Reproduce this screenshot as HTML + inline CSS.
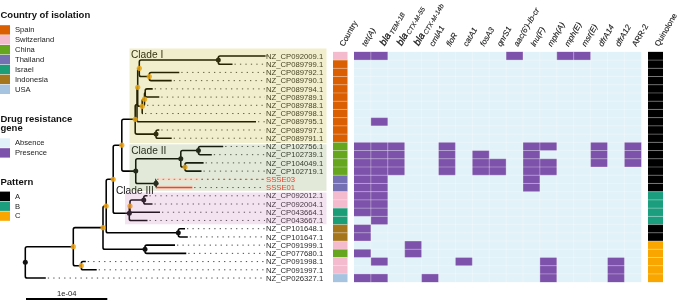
<!DOCTYPE html>
<html><head><meta charset="utf-8"><style>
html,body{margin:0;padding:0;background:#fff;width:677px;height:300px;overflow:hidden}
svg{display:block;font-family:"Liberation Sans",sans-serif;will-change:transform}
</style></head><body>
<svg width="677" height="300" viewBox="0 0 677 300">
<defs><clipPath id="tp"><rect x="0" y="0" width="326.5" height="300"/></clipPath></defs>
<g clip-path="url(#tp)">
<line x1="267.6" y1="55.96" x2="265" y2="55.96" stroke="#4a4a4a" stroke-width="1" stroke-dasharray="1.3 4.15"/>
<line x1="234.5" y1="64.19" x2="265" y2="64.19" stroke="#4a4a4a" stroke-width="1" stroke-dasharray="1.3 4.15"/>
<line x1="181.3" y1="72.41" x2="265" y2="72.41" stroke="#4a4a4a" stroke-width="1" stroke-dasharray="1.3 4.15"/>
<line x1="173.7" y1="80.64" x2="265" y2="80.64" stroke="#4a4a4a" stroke-width="1" stroke-dasharray="1.3 4.15"/>
<line x1="154.7" y1="88.86" x2="265" y2="88.86" stroke="#4a4a4a" stroke-width="1" stroke-dasharray="1.3 4.15"/>
<line x1="161.3" y1="97.09" x2="265" y2="97.09" stroke="#4a4a4a" stroke-width="1" stroke-dasharray="1.3 4.15"/>
<line x1="147" y1="105.31" x2="265" y2="105.31" stroke="#4a4a4a" stroke-width="1" stroke-dasharray="1.3 4.15"/>
<line x1="145" y1="113.54" x2="265" y2="113.54" stroke="#4a4a4a" stroke-width="1" stroke-dasharray="1.3 4.15"/>
<line x1="258" y1="121.76" x2="265" y2="121.76" stroke="#4a4a4a" stroke-width="1" stroke-dasharray="1.3 4.15"/>
<line x1="161.3" y1="129.99" x2="265" y2="129.99" stroke="#4a4a4a" stroke-width="1" stroke-dasharray="1.3 4.15"/>
<line x1="173.7" y1="138.21" x2="265" y2="138.21" stroke="#4a4a4a" stroke-width="1" stroke-dasharray="1.3 4.15"/>
<line x1="225.2" y1="146.44" x2="265" y2="146.44" stroke="#4a4a4a" stroke-width="1" stroke-dasharray="1.3 4.15"/>
<line x1="213.8" y1="154.66" x2="265" y2="154.66" stroke="#4a4a4a" stroke-width="1" stroke-dasharray="1.3 4.15"/>
<line x1="205.6" y1="162.89" x2="265" y2="162.89" stroke="#4a4a4a" stroke-width="1" stroke-dasharray="1.3 4.15"/>
<line x1="203.5" y1="171.11" x2="265" y2="171.11" stroke="#4a4a4a" stroke-width="1" stroke-dasharray="1.3 4.15"/>
<line x1="158" y1="179.34" x2="265" y2="179.34" stroke="#4a4a4a" stroke-width="1" stroke-dasharray="1.3 4.15"/>
<line x1="194.2" y1="187.56" x2="265" y2="187.56" stroke="#4a4a4a" stroke-width="1" stroke-dasharray="1.3 4.15"/>
<line x1="149.5" y1="195.79" x2="265" y2="195.79" stroke="#4a4a4a" stroke-width="1" stroke-dasharray="1.3 4.15"/>
<line x1="154.5" y1="204.01" x2="265" y2="204.01" stroke="#4a4a4a" stroke-width="1" stroke-dasharray="1.3 4.15"/>
<line x1="162" y1="212.24" x2="265" y2="212.24" stroke="#4a4a4a" stroke-width="1" stroke-dasharray="1.3 4.15"/>
<line x1="149.5" y1="220.46" x2="265" y2="220.46" stroke="#4a4a4a" stroke-width="1" stroke-dasharray="1.3 4.15"/>
<line x1="187" y1="228.69" x2="265" y2="228.69" stroke="#4a4a4a" stroke-width="1" stroke-dasharray="1.3 4.15"/>
<line x1="189.8" y1="236.91" x2="265" y2="236.91" stroke="#4a4a4a" stroke-width="1" stroke-dasharray="1.3 4.15"/>
<line x1="177" y1="245.14" x2="265" y2="245.14" stroke="#4a4a4a" stroke-width="1" stroke-dasharray="1.3 4.15"/>
<line x1="188.25" y1="253.36" x2="265" y2="253.36" stroke="#4a4a4a" stroke-width="1" stroke-dasharray="1.3 4.15"/>
<line x1="87.8" y1="261.59" x2="265" y2="261.59" stroke="#4a4a4a" stroke-width="1" stroke-dasharray="1.3 4.15"/>
<line x1="98.7" y1="269.81" x2="265" y2="269.81" stroke="#4a4a4a" stroke-width="1" stroke-dasharray="1.3 4.15"/>
<line x1="47.8" y1="278.04" x2="265" y2="278.04" stroke="#4a4a4a" stroke-width="1" stroke-dasharray="1.3 4.15"/>
<g fill="none" stroke="#000000" stroke-width="1.55" stroke-linecap="butt">
<path d="M218.3 60.08V57.76Q218.3 55.96 220.1 55.96H265.6"/>
<path d="M218.3 60.08V62.39Q218.3 64.19 220.1 64.19H232.5"/>
<path d="M149.3 76.53V74.21Q149.3 72.41 151.1 72.41H179.3"/>
<path d="M149.3 76.53V78.84Q149.3 80.64 151.1 80.64H171.7"/>
<path d="M139.3 68.3V61.88Q139.3 60.08 141.1 60.08H218.3"/>
<path d="M139.3 68.3V74.73Q139.3 76.53 141.1 76.53H149.3"/>
<path d="M145.2 92.97V90.66Q145.2 88.86 147 88.86H152.7"/>
<path d="M145.2 92.97V95.29Q145.2 97.09 147 97.09H159.3"/>
<path d="M144.5 99.14V93.67Q144.5 92.97 145.2 92.97H145.2"/>
<path d="M144.5 99.14V104.81Q144.5 105.31 145 105.31H145"/>
<path d="M142.2 106.34V100.94Q142.2 99.14 144 99.14H144.5"/>
<path d="M142.2 106.34V112.74Q142.2 113.54 143 113.54H143"/>
<path d="M137.7 87.32V69.9Q137.7 68.3 139.3 68.3H139.3"/>
<path d="M137.7 87.32V104.54Q137.7 106.34 139.5 106.34H142.2"/>
<path d="M137 104.54V88.02Q137 87.32 137.7 87.32H137.7"/>
<path d="M137 104.54V119.96Q137 121.76 138.8 121.76H256"/>
<path d="M156 134.1V131.79Q156 129.99 157.8 129.99H159.3"/>
<path d="M156 134.1V136.41Q156 138.21 157.8 138.21H171.7"/>
<path d="M135.2 119.32V106.34Q135.2 104.54 137 104.54H137"/>
<path d="M135.2 119.32V132.3Q135.2 134.1 137 134.1H156"/>
<path d="M198.4 150.55V148.24Q198.4 146.44 200.2 146.44H223.2"/>
<path d="M198.4 150.55V152.86Q198.4 154.66 200.2 154.66H211.8"/>
<path d="M185 167V164.69Q185 162.89 186.8 162.89H203.6"/>
<path d="M185 167V169.31Q185 171.11 186.8 171.11H201.5"/>
<path d="M180.8 158.78V152.35Q180.8 150.55 182.6 150.55H198.4"/>
<path d="M180.8 158.78V165.2Q180.8 167 182.6 167H185"/>
<path d="M156 183.45V179.35Q156 179.34 156.01 179.34H156.01"/>
<path d="M156 183.45V185.76Q156 187.56 157.8 187.56H192.2"/>
<path d="M135.75 171.11V160.58Q135.75 158.78 137.55 158.78H180.8"/>
<path d="M135.75 171.11V181.65Q135.75 183.45 137.55 183.45H156"/>
<path d="M121.8 145.22V121.12Q121.8 119.32 123.6 119.32H135.2"/>
<path d="M121.8 145.22V169.31Q121.8 171.11 123.6 171.11H135.75"/>
<path d="M143.75 199.9V197.59Q143.75 195.79 145.55 195.79H147.5"/>
<path d="M143.75 199.9V202.21Q143.75 204.01 145.55 204.01H152.5"/>
<path d="M130 206.07V201.7Q130 199.9 131.8 199.9H143.75"/>
<path d="M130 206.07V210.44Q130 212.24 131.8 212.24H160"/>
<path d="M129.3 213.27V206.77Q129.3 206.07 130 206.07H130"/>
<path d="M129.3 213.27V218.66Q129.3 220.46 131.1 220.46H147.5"/>
<path d="M113.2 179.24V147.02Q113.2 145.22 115 145.22H121.8"/>
<path d="M113.2 179.24V211.47Q113.2 213.27 115 213.27H129.3"/>
<path d="M178.3 232.8V230.49Q178.3 228.69 180.1 228.69H185"/>
<path d="M178.3 232.8V235.11Q178.3 236.91 180.1 236.91H187.8"/>
<path d="M106.2 206.02V181.04Q106.2 179.24 108 179.24H113.2"/>
<path d="M106.2 206.02V231Q106.2 232.8 108 232.8H178.3"/>
<path d="M145 249.25V246.94Q145 245.14 146.8 245.14H175"/>
<path d="M145 249.25V251.56Q145 253.36 146.8 253.36H186.25"/>
<path d="M103 227.64V207.82Q103 206.02 104.8 206.02H106.2"/>
<path d="M103 227.64V247.45Q103 249.25 104.8 249.25H145"/>
<path d="M81.3 265.7V263.39Q81.3 261.59 83.1 261.59H85.8"/>
<path d="M81.3 265.7V268.01Q81.3 269.81 83.1 269.81H96.7"/>
<path d="M73.3 246.67V229.44Q73.3 227.64 75.1 227.64H103"/>
<path d="M73.3 246.67V263.9Q73.3 265.7 75.1 265.7H81.3"/>
<path d="M25.3 262.35V248.47Q25.3 246.67 27.1 246.67H73.3"/>
<path d="M25.3 262.35V276.24Q25.3 278.04 27.1 278.04H45.8"/>
</g>
<circle cx="218.3" cy="60.08" r="2.5" fill="#111111"/>
<circle cx="149.3" cy="76.53" r="2.6" fill="#f2a20f" fill-opacity="0.85"/>
<circle cx="139.3" cy="68.3" r="2.6" fill="#f2a20f" fill-opacity="0.85"/>
<circle cx="144.5" cy="99.14" r="2.6" fill="#f2a20f" fill-opacity="0.85"/>
<circle cx="142.2" cy="106.34" r="2.6" fill="#f2a20f" fill-opacity="0.85"/>
<circle cx="137.7" cy="87.32" r="2.6" fill="#f2a20f" fill-opacity="0.85"/>
<circle cx="156" cy="134.1" r="2.5" fill="#111111"/>
<circle cx="135.2" cy="119.32" r="2.6" fill="#f2a20f" fill-opacity="0.85"/>
<circle cx="198.4" cy="150.55" r="2.5" fill="#111111"/>
<circle cx="185" cy="167" r="2.6" fill="#f2a20f" fill-opacity="0.85"/>
<circle cx="180.8" cy="158.78" r="2.5" fill="#111111"/>
<circle cx="156" cy="183.45" r="2.5" fill="#111111"/>
<circle cx="135.75" cy="171.11" r="2.5" fill="#111111"/>
<circle cx="121.8" cy="145.22" r="2.6" fill="#f2a20f" fill-opacity="0.85"/>
<circle cx="143.75" cy="199.9" r="2.5" fill="#111111"/>
<circle cx="130" cy="206.07" r="2.6" fill="#f2a20f" fill-opacity="0.85"/>
<circle cx="129.3" cy="213.27" r="2.5" fill="#111111"/>
<circle cx="113.2" cy="179.24" r="2.6" fill="#f2a20f" fill-opacity="0.85"/>
<circle cx="178.3" cy="232.8" r="2.5" fill="#111111"/>
<circle cx="106.2" cy="206.02" r="2.6" fill="#f2a20f" fill-opacity="0.85"/>
<circle cx="145" cy="249.25" r="2.5" fill="#111111"/>
<circle cx="103" cy="227.64" r="2.6" fill="#f2a20f" fill-opacity="0.85"/>
<circle cx="81.3" cy="265.7" r="2.6" fill="#f2a20f" fill-opacity="0.85"/>
<circle cx="73.3" cy="246.67" r="2.6" fill="#f2a20f" fill-opacity="0.85"/>
<circle cx="25.3" cy="262.35" r="2.5" fill="#111111"/>
<text x="266" y="58.66" font-size="7.7" fill="#2a2a2a">NZ_CP092009.1</text>
<text x="266" y="66.89" font-size="7.7" fill="#2a2a2a">NZ_CP089799.1</text>
<text x="266" y="75.11" font-size="7.7" fill="#2a2a2a">NZ_CP089792.1</text>
<text x="266" y="83.34" font-size="7.7" fill="#2a2a2a">NZ_CP089790.1</text>
<text x="266" y="91.56" font-size="7.7" fill="#2a2a2a">NZ_CP089794.1</text>
<text x="266" y="99.79" font-size="7.7" fill="#2a2a2a">NZ_CP089789.1</text>
<text x="266" y="108.01" font-size="7.7" fill="#2a2a2a">NZ_CP089788.1</text>
<text x="266" y="116.24" font-size="7.7" fill="#2a2a2a">NZ_CP089798.1</text>
<text x="266" y="124.46" font-size="7.7" fill="#2a2a2a">NZ_CP089795.1</text>
<text x="266" y="132.69" font-size="7.7" fill="#2a2a2a">NZ_CP089797.1</text>
<text x="266" y="140.91" font-size="7.7" fill="#2a2a2a">NZ_CP089791.1</text>
<text x="266" y="149.14" font-size="7.7" fill="#2a2a2a">NZ_CP102756.1</text>
<text x="266" y="157.36" font-size="7.7" fill="#2a2a2a">NZ_CP102739.1</text>
<text x="266" y="165.59" font-size="7.7" fill="#2a2a2a">NZ_CP104049.1</text>
<text x="266" y="173.81" font-size="7.7" fill="#2a2a2a">NZ_CP102719.1</text>
<text x="266" y="198.49" font-size="7.7" fill="#2a2a2a">NZ_CP092012.1</text>
<text x="266" y="206.71" font-size="7.7" fill="#2a2a2a">NZ_CP092004.1</text>
<text x="266" y="214.94" font-size="7.7" fill="#2a2a2a">NZ_CP043664.1</text>
<text x="266" y="223.16" font-size="7.7" fill="#2a2a2a">NZ_CP043667.1</text>
<text x="266" y="231.39" font-size="7.7" fill="#2a2a2a">NZ_CP101648.1</text>
<text x="266" y="239.61" font-size="7.7" fill="#2a2a2a">NZ_CP101647.1</text>
<text x="266" y="247.84" font-size="7.7" fill="#2a2a2a">NZ_CP091999.1</text>
<text x="266" y="256.06" font-size="7.7" fill="#2a2a2a">NZ_CP077680.1</text>
<text x="266" y="264.29" font-size="7.7" fill="#2a2a2a">NZ_CP091998.1</text>
<text x="266" y="272.51" font-size="7.7" fill="#2a2a2a">NZ_CP091997.1</text>
<text x="266" y="280.74" font-size="7.7" fill="#2a2a2a">NZ_CP026327.1</text>
<text x="131" y="58.3" font-size="10.2" fill="#111">Clade I</text>
<text x="131.2" y="154" font-size="10.2" fill="#111">Clade II</text>
<text x="116" y="194" font-size="10.2" fill="#111">Clade III</text>
<rect x="129.5" y="48.5" width="200" height="94.5" fill="#b9aa05" fill-opacity="0.2"/>
<rect x="129.5" y="144.3" width="200" height="46.5" fill="#73913c" fill-opacity="0.2"/>
<rect x="125" y="192.5" width="205" height="31.8" fill="#c373b4" fill-opacity="0.2"/>
<path d="M157 179.34H200" stroke="#f9d9c4" stroke-width="2.4" fill="none"/>
<line x1="157" y1="179.34" x2="265" y2="179.34" stroke="#e0553c" stroke-width="0.9" stroke-dasharray="1.6 3.95"/>
<path d="M157 187.56H192.7" stroke="#f9d9c4" stroke-width="4.4" fill="none"/>
<path d="M156 187.56H192.2" stroke="#d4513a" stroke-width="1.5" fill="none"/>
<circle cx="156" cy="183.45" r="2.4" fill="#2a2f22"/>
<text x="266" y="182.04" font-size="7.7" fill="#e2432f">SSSE03</text>
<text x="266" y="190.26" font-size="7.7" fill="#e2432f">SSSE01</text>
</g>
<rect x="333" y="51.85" width="14.5" height="8.22" fill="#f4bacd"/>
<rect x="333" y="60.08" width="14.5" height="8.22" fill="#d95f02"/>
<rect x="333" y="68.3" width="14.5" height="8.22" fill="#d95f02"/>
<rect x="333" y="76.53" width="14.5" height="8.22" fill="#d95f02"/>
<rect x="333" y="84.75" width="14.5" height="8.22" fill="#d95f02"/>
<rect x="333" y="92.97" width="14.5" height="8.22" fill="#d95f02"/>
<rect x="333" y="101.2" width="14.5" height="8.22" fill="#d95f02"/>
<rect x="333" y="109.42" width="14.5" height="8.22" fill="#d95f02"/>
<rect x="333" y="117.65" width="14.5" height="8.22" fill="#d95f02"/>
<rect x="333" y="125.88" width="14.5" height="8.22" fill="#d95f02"/>
<rect x="333" y="134.1" width="14.5" height="8.22" fill="#d95f02"/>
<rect x="333" y="142.32" width="14.5" height="8.22" fill="#66a61e"/>
<rect x="333" y="150.55" width="14.5" height="8.22" fill="#66a61e"/>
<rect x="333" y="158.78" width="14.5" height="8.22" fill="#66a61e"/>
<rect x="333" y="167" width="14.5" height="8.22" fill="#66a61e"/>
<rect x="333" y="175.22" width="14.5" height="8.22" fill="#7570b3"/>
<rect x="333" y="183.45" width="14.5" height="8.22" fill="#7570b3"/>
<rect x="333" y="191.67" width="14.5" height="8.22" fill="#f4bacd"/>
<rect x="333" y="199.9" width="14.5" height="8.22" fill="#f4bacd"/>
<rect x="333" y="208.12" width="14.5" height="8.22" fill="#1b9e77"/>
<rect x="333" y="216.35" width="14.5" height="8.22" fill="#1b9e77"/>
<rect x="333" y="224.57" width="14.5" height="8.22" fill="#a6761d"/>
<rect x="333" y="232.8" width="14.5" height="8.22" fill="#a6761d"/>
<rect x="333" y="241.02" width="14.5" height="8.22" fill="#f4bacd"/>
<rect x="333" y="249.25" width="14.5" height="8.22" fill="#66a61e"/>
<rect x="333" y="257.48" width="14.5" height="8.22" fill="#f4bacd"/>
<rect x="333" y="265.7" width="14.5" height="8.22" fill="#f4bacd"/>
<rect x="333" y="273.93" width="14.5" height="8.22" fill="#a6c3e0"/>
<rect x="354" y="51.85" width="287.3" height="230.3" fill="#e2f2f9"/>
<rect x="354" y="51.85" width="16.9" height="8.22" fill="#7d52aa"/>
<rect x="370.9" y="51.85" width="16.9" height="8.22" fill="#7d52aa"/>
<rect x="506.1" y="51.85" width="16.9" height="8.22" fill="#7d52aa"/>
<rect x="556.8" y="51.85" width="16.9" height="8.22" fill="#7d52aa"/>
<rect x="573.7" y="51.85" width="16.9" height="8.22" fill="#7d52aa"/>
<rect x="370.9" y="117.65" width="16.9" height="8.22" fill="#7d52aa"/>
<rect x="354" y="142.32" width="16.9" height="8.22" fill="#7d52aa"/>
<rect x="370.9" y="142.32" width="16.9" height="8.22" fill="#7d52aa"/>
<rect x="387.8" y="142.32" width="16.9" height="8.22" fill="#7d52aa"/>
<rect x="438.5" y="142.32" width="16.9" height="8.22" fill="#7d52aa"/>
<rect x="523" y="142.32" width="16.9" height="8.22" fill="#7d52aa"/>
<rect x="539.9" y="142.32" width="16.9" height="8.22" fill="#7d52aa"/>
<rect x="590.6" y="142.32" width="16.9" height="8.22" fill="#7d52aa"/>
<rect x="624.4" y="142.32" width="16.9" height="8.22" fill="#7d52aa"/>
<rect x="354" y="150.55" width="16.9" height="8.22" fill="#7d52aa"/>
<rect x="370.9" y="150.55" width="16.9" height="8.22" fill="#7d52aa"/>
<rect x="387.8" y="150.55" width="16.9" height="8.22" fill="#7d52aa"/>
<rect x="438.5" y="150.55" width="16.9" height="8.22" fill="#7d52aa"/>
<rect x="472.3" y="150.55" width="16.9" height="8.22" fill="#7d52aa"/>
<rect x="523" y="150.55" width="16.9" height="8.22" fill="#7d52aa"/>
<rect x="590.6" y="150.55" width="16.9" height="8.22" fill="#7d52aa"/>
<rect x="624.4" y="150.55" width="16.9" height="8.22" fill="#7d52aa"/>
<rect x="354" y="158.78" width="16.9" height="8.22" fill="#7d52aa"/>
<rect x="370.9" y="158.78" width="16.9" height="8.22" fill="#7d52aa"/>
<rect x="387.8" y="158.78" width="16.9" height="8.22" fill="#7d52aa"/>
<rect x="438.5" y="158.78" width="16.9" height="8.22" fill="#7d52aa"/>
<rect x="472.3" y="158.78" width="16.9" height="8.22" fill="#7d52aa"/>
<rect x="489.2" y="158.78" width="16.9" height="8.22" fill="#7d52aa"/>
<rect x="523" y="158.78" width="16.9" height="8.22" fill="#7d52aa"/>
<rect x="539.9" y="158.78" width="16.9" height="8.22" fill="#7d52aa"/>
<rect x="590.6" y="158.78" width="16.9" height="8.22" fill="#7d52aa"/>
<rect x="624.4" y="158.78" width="16.9" height="8.22" fill="#7d52aa"/>
<rect x="354" y="167" width="16.9" height="8.22" fill="#7d52aa"/>
<rect x="370.9" y="167" width="16.9" height="8.22" fill="#7d52aa"/>
<rect x="387.8" y="167" width="16.9" height="8.22" fill="#7d52aa"/>
<rect x="438.5" y="167" width="16.9" height="8.22" fill="#7d52aa"/>
<rect x="472.3" y="167" width="16.9" height="8.22" fill="#7d52aa"/>
<rect x="489.2" y="167" width="16.9" height="8.22" fill="#7d52aa"/>
<rect x="523" y="167" width="16.9" height="8.22" fill="#7d52aa"/>
<rect x="539.9" y="167" width="16.9" height="8.22" fill="#7d52aa"/>
<rect x="354" y="175.22" width="16.9" height="8.22" fill="#7d52aa"/>
<rect x="370.9" y="175.22" width="16.9" height="8.22" fill="#7d52aa"/>
<rect x="523" y="175.22" width="16.9" height="8.22" fill="#7d52aa"/>
<rect x="354" y="183.45" width="16.9" height="8.22" fill="#7d52aa"/>
<rect x="370.9" y="183.45" width="16.9" height="8.22" fill="#7d52aa"/>
<rect x="523" y="183.45" width="16.9" height="8.22" fill="#7d52aa"/>
<rect x="354" y="191.67" width="16.9" height="8.22" fill="#7d52aa"/>
<rect x="370.9" y="191.67" width="16.9" height="8.22" fill="#7d52aa"/>
<rect x="354" y="199.9" width="16.9" height="8.22" fill="#7d52aa"/>
<rect x="370.9" y="199.9" width="16.9" height="8.22" fill="#7d52aa"/>
<rect x="354" y="208.12" width="16.9" height="8.22" fill="#7d52aa"/>
<rect x="370.9" y="208.12" width="16.9" height="8.22" fill="#7d52aa"/>
<rect x="370.9" y="216.35" width="16.9" height="8.22" fill="#7d52aa"/>
<rect x="354" y="224.57" width="16.9" height="8.22" fill="#7d52aa"/>
<rect x="354" y="232.8" width="16.9" height="8.22" fill="#7d52aa"/>
<rect x="404.7" y="241.02" width="16.9" height="8.22" fill="#7d52aa"/>
<rect x="354" y="249.25" width="16.9" height="8.22" fill="#7d52aa"/>
<rect x="404.7" y="249.25" width="16.9" height="8.22" fill="#7d52aa"/>
<rect x="370.9" y="257.48" width="16.9" height="8.22" fill="#7d52aa"/>
<rect x="455.4" y="257.48" width="16.9" height="8.22" fill="#7d52aa"/>
<rect x="539.9" y="257.48" width="16.9" height="8.22" fill="#7d52aa"/>
<rect x="607.5" y="257.48" width="16.9" height="8.22" fill="#7d52aa"/>
<rect x="539.9" y="265.7" width="16.9" height="8.22" fill="#7d52aa"/>
<rect x="607.5" y="265.7" width="16.9" height="8.22" fill="#7d52aa"/>
<rect x="354" y="273.93" width="16.9" height="8.22" fill="#7d52aa"/>
<rect x="370.9" y="273.93" width="16.9" height="8.22" fill="#7d52aa"/>
<rect x="421.6" y="273.93" width="16.9" height="8.22" fill="#7d52aa"/>
<rect x="539.9" y="273.93" width="16.9" height="8.22" fill="#7d52aa"/>
<rect x="607.5" y="273.93" width="16.9" height="8.22" fill="#7d52aa"/>
<rect x="648" y="51.85" width="15" height="8.22" fill="#000000"/>
<rect x="648" y="60.08" width="15" height="8.22" fill="#000000"/>
<rect x="648" y="68.3" width="15" height="8.22" fill="#000000"/>
<rect x="648" y="76.53" width="15" height="8.22" fill="#000000"/>
<rect x="648" y="84.75" width="15" height="8.22" fill="#000000"/>
<rect x="648" y="92.97" width="15" height="8.22" fill="#000000"/>
<rect x="648" y="101.2" width="15" height="8.22" fill="#000000"/>
<rect x="648" y="109.42" width="15" height="8.22" fill="#000000"/>
<rect x="648" y="117.65" width="15" height="8.22" fill="#000000"/>
<rect x="648" y="125.88" width="15" height="8.22" fill="#000000"/>
<rect x="648" y="134.1" width="15" height="8.22" fill="#000000"/>
<rect x="648" y="142.32" width="15" height="8.22" fill="#000000"/>
<rect x="648" y="150.55" width="15" height="8.22" fill="#000000"/>
<rect x="648" y="158.78" width="15" height="8.22" fill="#000000"/>
<rect x="648" y="167" width="15" height="8.22" fill="#000000"/>
<rect x="648" y="175.22" width="15" height="8.22" fill="#000000"/>
<rect x="648" y="183.45" width="15" height="8.22" fill="#000000"/>
<rect x="648" y="191.67" width="15" height="8.22" fill="#1a9e7e"/>
<rect x="648" y="199.9" width="15" height="8.22" fill="#1a9e7e"/>
<rect x="648" y="208.12" width="15" height="8.22" fill="#1a9e7e"/>
<rect x="648" y="216.35" width="15" height="8.22" fill="#1a9e7e"/>
<rect x="648" y="224.57" width="15" height="8.22" fill="#000000"/>
<rect x="648" y="232.8" width="15" height="8.22" fill="#000000"/>
<rect x="648" y="241.02" width="15" height="8.22" fill="#f9a700"/>
<rect x="648" y="249.25" width="15" height="8.22" fill="#f9a700"/>
<rect x="648" y="257.48" width="15" height="8.22" fill="#f9a700"/>
<rect x="648" y="265.7" width="15" height="8.22" fill="#f9a700"/>
<rect x="648" y="273.93" width="15" height="8.22" fill="#f9a700"/>
<path d="M333 60.08H347.5M354 60.08H641.3M648 60.08H663M333 68.3H347.5M354 68.3H641.3M648 68.3H663M333 76.53H347.5M354 76.53H641.3M648 76.53H663M333 84.75H347.5M354 84.75H641.3M648 84.75H663M333 92.97H347.5M354 92.97H641.3M648 92.97H663M333 101.2H347.5M354 101.2H641.3M648 101.2H663M333 109.42H347.5M354 109.42H641.3M648 109.42H663M333 117.65H347.5M354 117.65H641.3M648 117.65H663M333 125.88H347.5M354 125.88H641.3M648 125.88H663M333 134.1H347.5M354 134.1H641.3M648 134.1H663M333 142.32H347.5M354 142.32H641.3M648 142.32H663M333 150.55H347.5M354 150.55H641.3M648 150.55H663M333 158.78H347.5M354 158.78H641.3M648 158.78H663M333 167H347.5M354 167H641.3M648 167H663M333 175.22H347.5M354 175.22H641.3M648 175.22H663M333 183.45H347.5M354 183.45H641.3M648 183.45H663M333 191.67H347.5M354 191.67H641.3M648 191.67H663M333 199.9H347.5M354 199.9H641.3M648 199.9H663M333 208.12H347.5M354 208.12H641.3M648 208.12H663M333 216.35H347.5M354 216.35H641.3M648 216.35H663M333 224.57H347.5M354 224.57H641.3M648 224.57H663M333 232.8H347.5M354 232.8H641.3M648 232.8H663M333 241.02H347.5M354 241.02H641.3M648 241.02H663M333 249.25H347.5M354 249.25H641.3M648 249.25H663M333 257.48H347.5M354 257.48H641.3M648 257.48H663M333 265.7H347.5M354 265.7H641.3M648 265.7H663M333 273.93H347.5M354 273.93H641.3M648 273.93H663M370.9 51.85V282.15M387.8 51.85V282.15M404.7 51.85V282.15M421.6 51.85V282.15M438.5 51.85V282.15M455.4 51.85V282.15M472.3 51.85V282.15M489.2 51.85V282.15M506.1 51.85V282.15M523 51.85V282.15M539.9 51.85V282.15M556.8 51.85V282.15M573.7 51.85V282.15M590.6 51.85V282.15M607.5 51.85V282.15M624.4 51.85V282.15" stroke="#ffffff" stroke-opacity="0.5" stroke-width="0.6" fill="none"/>
<text transform="translate(343.75 47) rotate(-60)" font-size="8" fill="#1a1a1a" stroke="#1a1a1a" stroke-width="0.12">Country</text>
<text transform="translate(365.95 47) rotate(-60)" font-size="8" fill="#1a1a1a" stroke="#1a1a1a" stroke-width="0.12" font-style="italic">tet(A)</text>
<text transform="translate(384.85 46.2) rotate(-60)" font-size="8" fill="#1a1a1a" stroke="#1a1a1a" stroke-width="0.12"><tspan font-style="italic" font-size="9.6" stroke="#1a1a1a" stroke-width="0.32">bla</tspan><tspan font-style="italic" font-size="6.6" dy="1.6" dx="1">TEM-1B</tspan></text>
<text transform="translate(401.75 46.2) rotate(-60)" font-size="8" fill="#1a1a1a" stroke="#1a1a1a" stroke-width="0.12"><tspan font-style="italic" font-size="9.6" stroke="#1a1a1a" stroke-width="0.32">bla</tspan><tspan font-style="italic" font-size="6.6" dy="1.6" dx="1">CTX-M-55</tspan></text>
<text transform="translate(418.65 46.2) rotate(-60)" font-size="8" fill="#1a1a1a" stroke="#1a1a1a" stroke-width="0.12"><tspan font-style="italic" font-size="9.6" stroke="#1a1a1a" stroke-width="0.32">bla</tspan><tspan font-style="italic" font-size="6.6" dy="1.6" dx="1">CTX-M-14b</tspan></text>
<text transform="translate(433.55 47) rotate(-60)" font-size="8" fill="#1a1a1a" stroke="#1a1a1a" stroke-width="0.12" font-style="italic">cmlA1</text>
<text transform="translate(450.45 47) rotate(-60)" font-size="8" fill="#1a1a1a" stroke="#1a1a1a" stroke-width="0.12" font-style="italic">floR</text>
<text transform="translate(467.35 47) rotate(-60)" font-size="8" fill="#1a1a1a" stroke="#1a1a1a" stroke-width="0.12" font-style="italic">catA1</text>
<text transform="translate(484.25 47) rotate(-60)" font-size="8" fill="#1a1a1a" stroke="#1a1a1a" stroke-width="0.12" font-style="italic">fosA3</text>
<text transform="translate(501.15 47) rotate(-60)" font-size="8" fill="#1a1a1a" stroke="#1a1a1a" stroke-width="0.12" font-style="italic">qnrS1</text>
<text transform="translate(518.05 47) rotate(-60)" font-size="8" fill="#1a1a1a" stroke="#1a1a1a" stroke-width="0.12" font-style="italic">aac(6&#39;)-Ib-cr</text>
<text transform="translate(534.95 47) rotate(-60)" font-size="8" fill="#1a1a1a" stroke="#1a1a1a" stroke-width="0.12" font-style="italic">lnu(F)</text>
<text transform="translate(551.85 47) rotate(-60)" font-size="8" fill="#1a1a1a" stroke="#1a1a1a" stroke-width="0.12" font-style="italic">mph(A)</text>
<text transform="translate(568.75 47) rotate(-60)" font-size="8" fill="#1a1a1a" stroke="#1a1a1a" stroke-width="0.12" font-style="italic">mph(E)</text>
<text transform="translate(585.65 47) rotate(-60)" font-size="8" fill="#1a1a1a" stroke="#1a1a1a" stroke-width="0.12" font-style="italic">msr(E)</text>
<text transform="translate(602.55 47) rotate(-60)" font-size="8" fill="#1a1a1a" stroke="#1a1a1a" stroke-width="0.12" font-style="italic">dfrA14</text>
<text transform="translate(619.45 47) rotate(-60)" font-size="8" fill="#1a1a1a" stroke="#1a1a1a" stroke-width="0.12" font-style="italic">dfrA12</text>
<text transform="translate(636.35 47) rotate(-60)" font-size="8" fill="#1a1a1a" stroke="#1a1a1a" stroke-width="0.12">ARR-2</text>
<text transform="translate(659 47) rotate(-60)" font-size="8" fill="#1a1a1a" stroke="#1a1a1a" stroke-width="0.12">Quinolone</text>
<text x="0.5" y="18" font-size="9.5" font-weight="bold" fill="#111">Country of isolation</text>
<rect x="0" y="25.2" width="10" height="9.4" fill="#d95f02"/>
<text x="15" y="32.2" font-size="7.6" fill="#222">Spain</text>
<rect x="0" y="35.1" width="10" height="9.4" fill="#f4bacd"/>
<text x="15" y="42.1" font-size="7.6" fill="#222">Switzerland</text>
<rect x="0" y="45" width="10" height="9.4" fill="#66a61e"/>
<text x="15" y="52" font-size="7.6" fill="#222">China</text>
<rect x="0" y="54.9" width="10" height="9.4" fill="#7570b3"/>
<text x="15" y="61.9" font-size="7.6" fill="#222">Thailand</text>
<rect x="0" y="64.8" width="10" height="9.4" fill="#1b9e77"/>
<text x="15" y="71.8" font-size="7.6" fill="#222">Israel</text>
<rect x="0" y="74.7" width="10" height="9.4" fill="#a6761d"/>
<text x="15" y="81.7" font-size="7.6" fill="#222">Indonesia</text>
<rect x="0" y="84.6" width="10" height="9.4" fill="#a6c3e0"/>
<text x="15" y="91.6" font-size="7.6" fill="#222">USA</text>
<text x="0.5" y="121.5" font-size="9.5" font-weight="bold" fill="#111">Drug resistance</text>
<text x="0.5" y="131.4" font-size="9.5" font-weight="bold" fill="#111">gene</text>
<rect x="0" y="138.3" width="10" height="9.4" fill="#e2f2f9"/>
<text x="15" y="145.3" font-size="7.6" fill="#222">Absence</text>
<rect x="0" y="148.2" width="10" height="9.4" fill="#7d52aa"/>
<text x="15" y="155.2" font-size="7.6" fill="#222">Presence</text>
<text x="0.5" y="184.7" font-size="9.5" font-weight="bold" fill="#111">Pattern</text>
<rect x="0" y="191.6" width="10" height="9.4" fill="#000000"/>
<text x="15" y="198.6" font-size="7.6" fill="#222">A</text>
<rect x="0" y="201.5" width="10" height="9.4" fill="#1a9e7e"/>
<text x="15" y="208.5" font-size="7.6" fill="#222">B</text>
<rect x="0" y="211.4" width="10" height="9.4" fill="#f9a700"/>
<text x="15" y="218.4" font-size="7.6" fill="#222">C</text>
<text x="57" y="295.8" font-size="7.6" fill="#222">1e-04</text>
<rect x="26" y="298" width="81.3" height="2.5" fill="#000"/>
</svg>
</body></html>
